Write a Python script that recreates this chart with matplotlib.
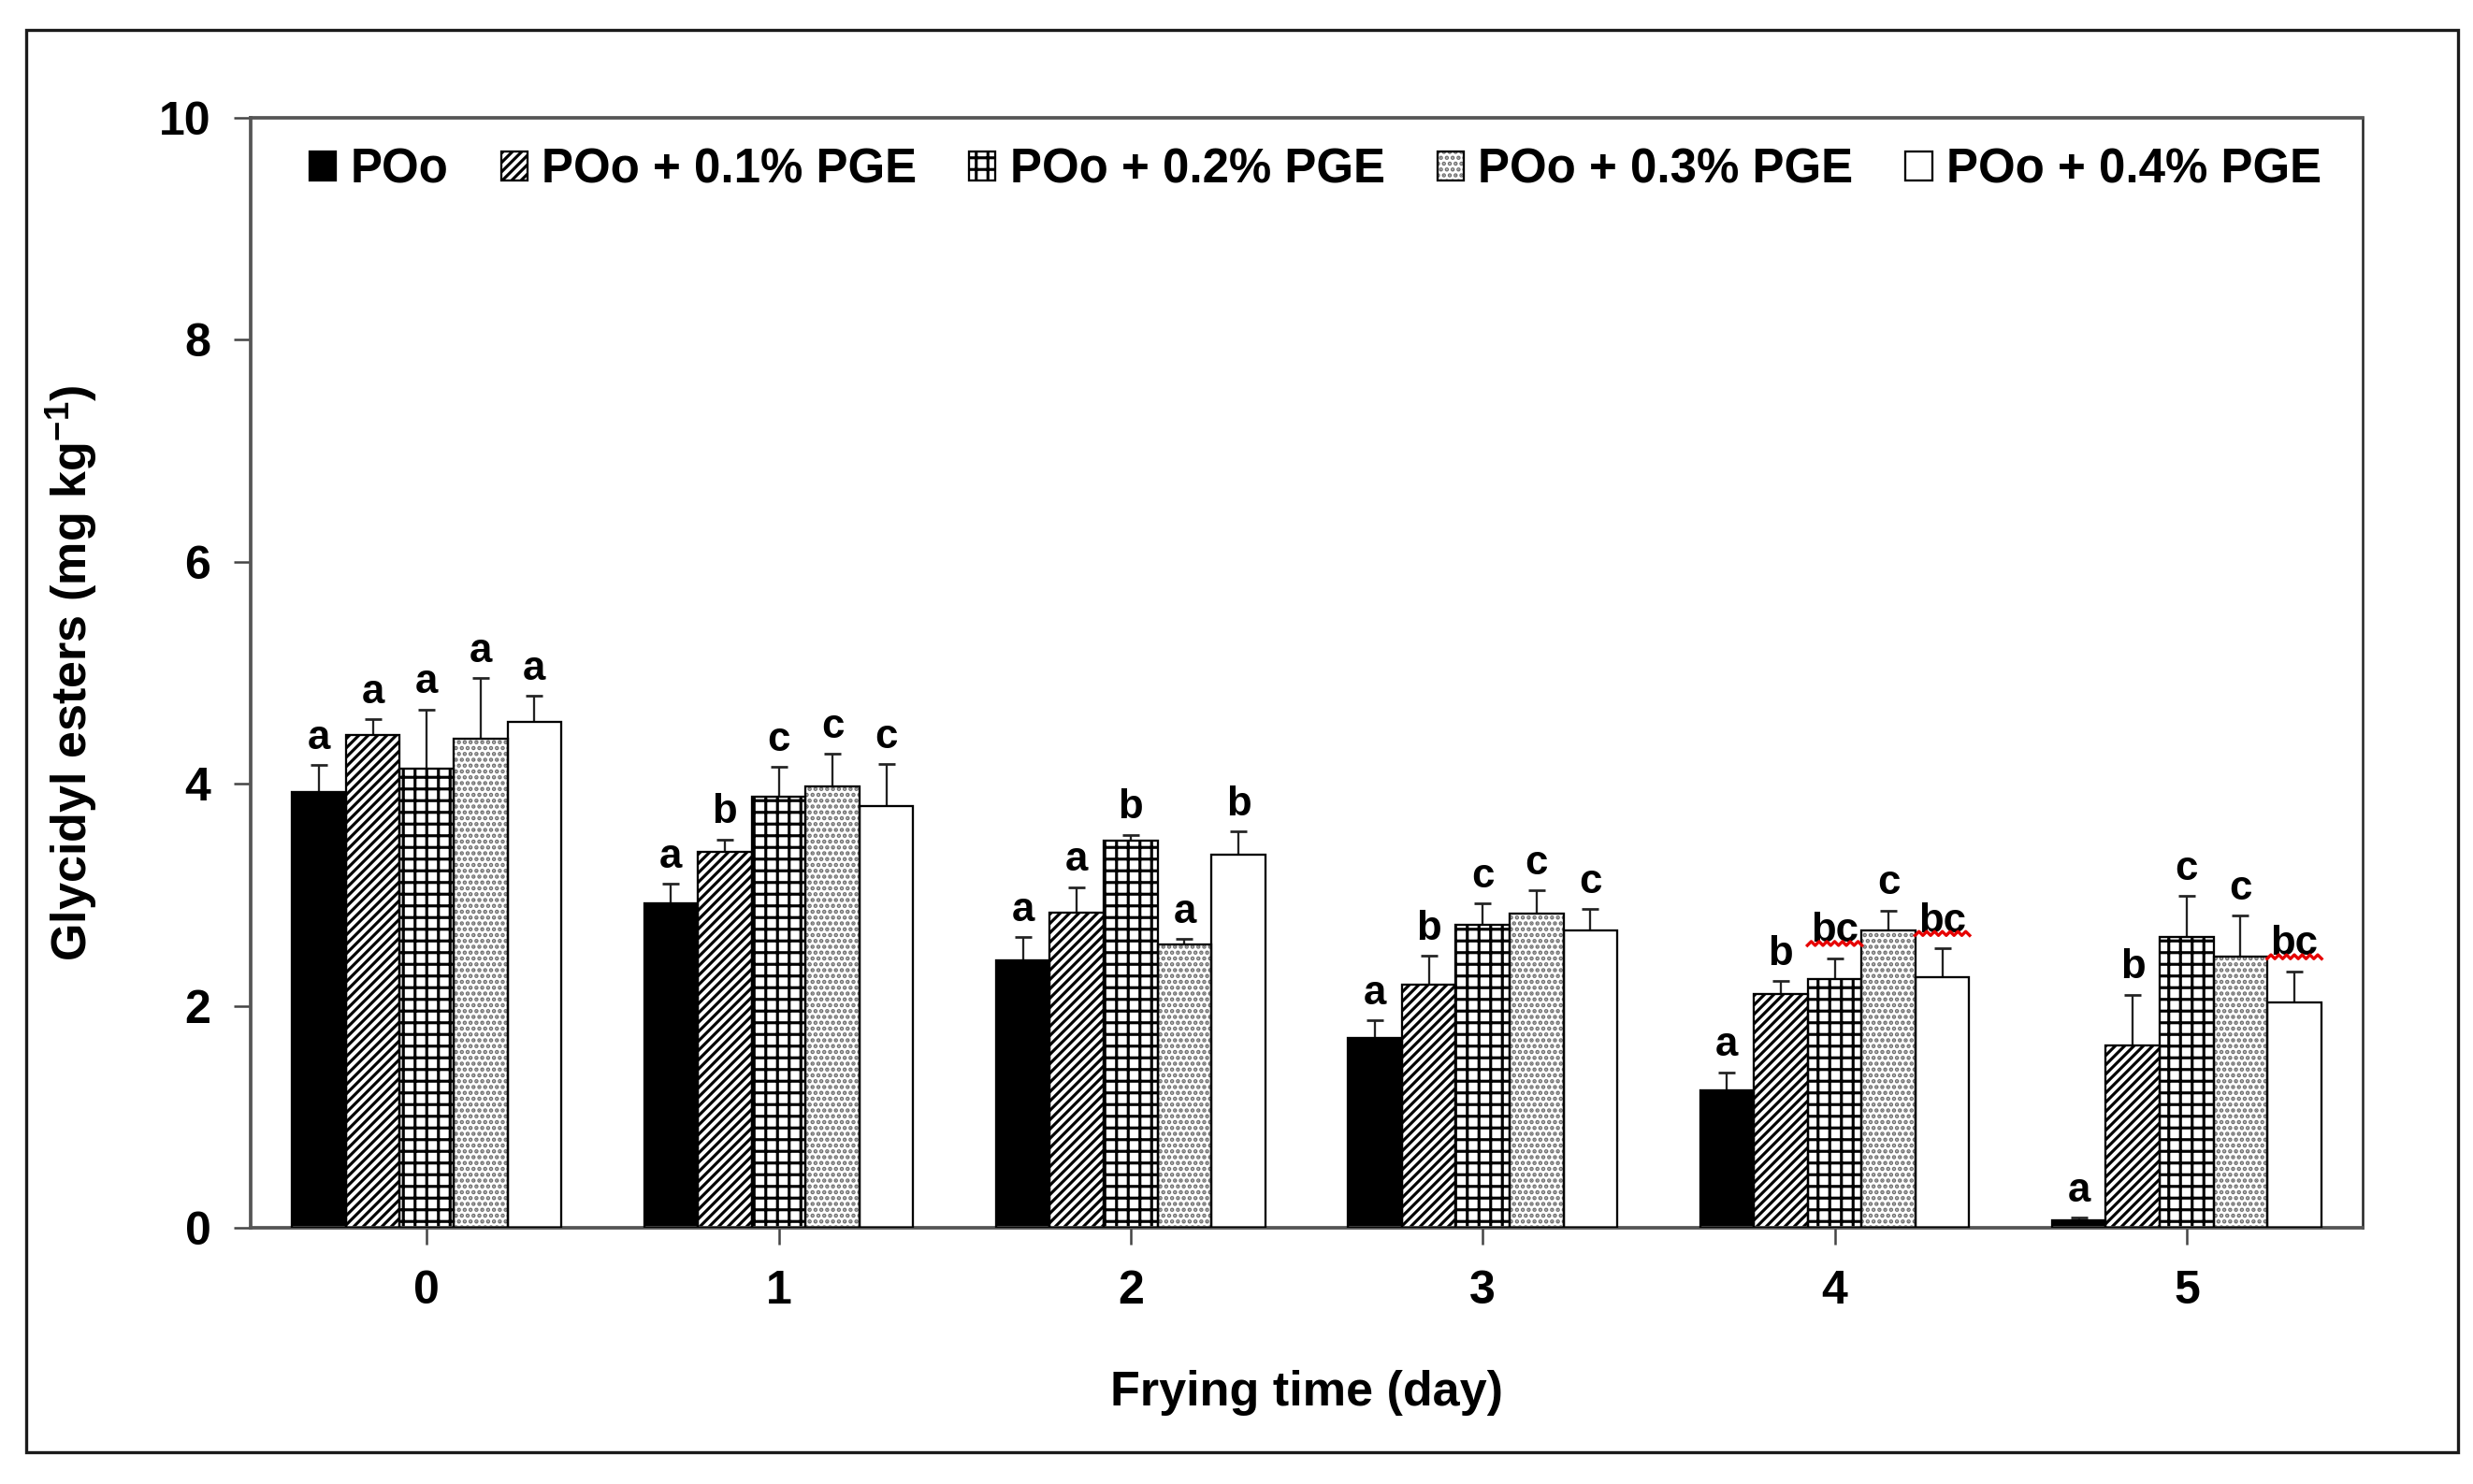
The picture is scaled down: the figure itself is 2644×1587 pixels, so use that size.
import numpy as np
import matplotlib
matplotlib.use("Agg")
import matplotlib.pyplot as plt
from matplotlib.patches import Rectangle
from matplotlib.lines import Line2D
from matplotlib.legend_handler import HandlerTuple
from matplotlib.transforms import Affine2D, ScaledTranslation

plt.rcParams['font.family'] = ['Liberation Sans', 'DejaVu Sans']
plt.rcParams['font.weight'] = 'bold'
plt.rcParams['mathtext.fontset'] = 'custom'
plt.rcParams['mathtext.bf'] = 'Liberation Sans:bold'
plt.rcParams['mathtext.rm'] = 'Liberation Sans:bold'
plt.rcParams['mathtext.default'] = 'bf'
plt.rcParams['hatch.linewidth'] = 1.5

# data
days = ['0', '1', '2', '3', '4', '5']
series = ['POo', 'POo + 0.1% PGE', 'POo + 0.2% PGE', 'POo + 0.3% PGE', 'POo + 0.4% PGE']
means = [
    [3.93, 2.92, 2.41, 1.71, 1.24, 0.07],   # POo
    [4.44, 3.39, 2.84, 2.19, 2.11, 1.64],   # +0.1%
    [4.14, 3.88, 3.49, 2.73, 2.24, 2.62],   # +0.2%
    [4.41, 3.98, 2.55, 2.83, 2.68, 2.44],   # +0.3%
    [4.56, 3.80, 3.36, 2.68, 2.26, 2.03],   # +0.4%
]
errs = [
    [0.24, 0.18, 0.21, 0.16, 0.16, 0.02],
    [0.14, 0.11, 0.23, 0.26, 0.11, 0.46],
    [0.53, 0.27, 0.05, 0.19, 0.19, 0.37],
    [0.54, 0.29, 0.05, 0.21, 0.18, 0.37],
    [0.23, 0.38, 0.21, 0.19, 0.26, 0.28],
]
letters = [
    ['a', 'a', 'a', 'a', 'a', 'a'],
    ['a', 'b', 'a', 'b', 'b', 'b'],
    ['a', 'c', 'b', 'c', 'bc', 'c'],
    ['a', 'c', 'a', 'c', 'c', 'c'],
    ['a', 'c', 'b', 'c', 'bc', 'bc'],
]
# (series, day) labels carrying the red spell-check squiggle
squiggled = [(2, 4), (4, 4), (4, 5)]

fills = ['black', 'white', 'white', 'white', 'white']
hatches = [None, '/////', '++', '....', None]
hatch_cols = ['black', 'black', 'black', '#6f6f6f', 'black']

fig = plt.figure(figsize=(2644 / 150, 1587 / 150), dpi=150)
ax = fig.add_axes([268 / 2644, 1 - 1313 / 1587, (2526 - 268) / 2644, (1313 - 126) / 1587])

x = np.arange(len(days))
w = 0.153
# zigzag squiggle shape, in points relative to the error-bar top
zx = np.linspace(-14, 14, 15)
zy = 7.5 + np.where(np.arange(15) % 2 == 0, -1.0, 1.0)

handles = []
for i, name in enumerate(series):
    xs = x + (i - 2) * w
    hb = ax.bar(xs, means[i], w, color=fills[i], hatch=hatches[i],
                edgecolor=hatch_cols[i], linewidth=0, zorder=2)
    ob = ax.bar(xs, means[i], w, fill=False, edgecolor='black', linewidth=1.1, zorder=3)
    ax.errorbar(xs, means[i], yerr=[np.zeros(len(days)), errs[i]], fmt='none',
                ecolor='#222222', elinewidth=1.1, capsize=4.5, capthick=1.3, zorder=1)
    handles.append((hb[0], ob[0]))
    for j in range(len(days)):
        top = means[i][j] + errs[i][j]
        ax.annotate(letters[i][j], (xs[j], top), xytext=(0, 4), textcoords='offset points',
                    ha='center', va='bottom', fontsize=21, fontweight='bold', zorder=4)
        if (i, j) in squiggled:
            tr = (Affine2D().scale(1 / 72) + fig.dpi_scale_trans
                  + ScaledTranslation(xs[j], top, ax.transData))
            ax.add_artist(Line2D(zx, zy, color='#e60000', linewidth=1.6, transform=tr,
                                 clip_on=False, zorder=5))

ax.set_xlim(-0.5, 5.5)
ax.set_ylim(0, 10)
ax.set_xticks(x)
ax.set_xticklabels(days)
ax.set_yticks(np.arange(0, 11, 2))
ax.tick_params(axis='both', direction='out', length=8.5, width=1.2, colors='#444444',
               labelcolor='black', labelsize=24)
ax.tick_params(axis='y', pad=12)
ax.tick_params(axis='x', pad=13)
for lab in ax.get_xticklabels() + ax.get_yticklabels():
    lab.set_fontweight('bold')
for s in ['left', 'bottom', 'top']:
    ax.spines[s].set_color('#555555')
    ax.spines[s].set_linewidth(1.8)
ax.spines['right'].set_color('#222222')
ax.spines['right'].set_linewidth(1.2)

ax.set_xlabel('Frying time (day)', fontsize=25, fontweight='bold')
ax.set_ylabel(r'Glycidyl esters (mg kg$^{-1}$)', fontsize=25, fontweight='bold')
ax.xaxis.set_label_coords(0.5, -0.128)
ax.yaxis.set_label_coords(-0.0713, 0.5)

ax.legend(handles, series, handler_map={tuple: HandlerTuple(ndivide=1)},
          loc='center left', bbox_to_anchor=(0.028, 0.953), ncol=5, frameon=False,
          borderpad=0, borderaxespad=0, handlelength=0.55, handleheight=0.55,
          handletextpad=0.3, columnspacing=1.1, prop={'size': 24.5, 'weight': 'bold'})

fig.patches.append(Rectangle((28 / 2644, 1 - 1553 / 1587), 2600 / 2644, 1521 / 1587,
                             transform=fig.transFigure, fill=False, edgecolor='#1a1a1a',
                             linewidth=1.6))

fig.savefig('out.png', dpi=150)
